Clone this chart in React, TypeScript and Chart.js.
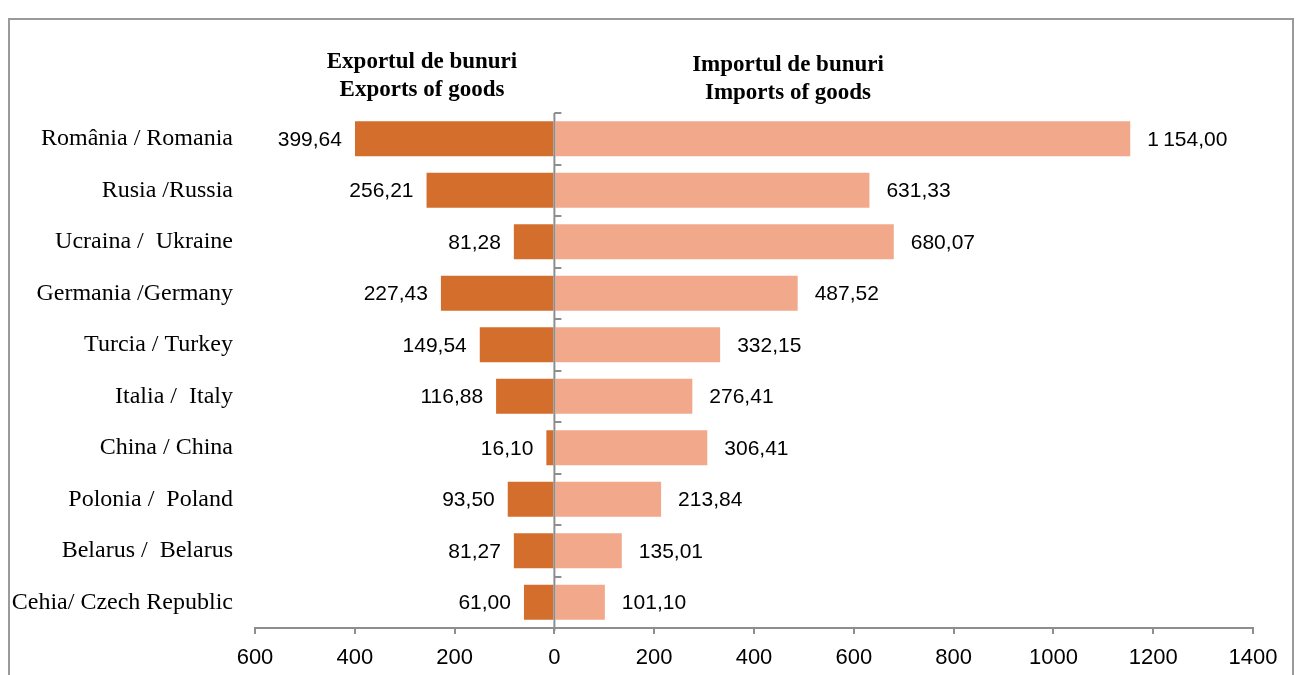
import React, { useEffect, useRef } from "react";
import { Chart, registerables } from "chart.js";

Chart.register(...registerables);

const categories = [
  "România / Romania",
  "Rusia /Russia",
  "Ucraina /  Ukraine",
  "Germania /Germany",
  "Turcia / Turkey",
  "Italia /  Italy",
  "China / China",
  "Polonia /  Poland",
  "Belarus /  Belarus",
  "Cehia/ Czech Republic",
];
const exportsOfGoods = [399.64, 256.21, 81.28, 227.43, 149.54, 116.88, 16.1, 93.5, 81.27, 61.0];
const importsOfGoods = [1154.0, 631.33, 680.07, 487.52, 332.15, 276.41, 306.41, 213.84, 135.01, 101.1];
const exportTitle = ["Exportul de bunuri", "Exports of goods"];
const importTitle = ["Importul de bunuri", "Imports of goods"];
const xMin = -600;
const xMax = 1400;
const xStep = 200;

const EXPORT_COLOR = "#D36E2C";
const IMPORT_COLOR = "#F1A88B";
const AXIS_COLOR = "#8E8E8E";
const SANS = "'Liberation Sans', Arial, sans-serif";
const SERIF = "'Liberation Serif', 'Times New Roman', serif";

function fmt(v: number): string {
  const [i, d] = Math.abs(v).toFixed(2).split(".");
  const withSep = i.replace(/\B(?=(\d{3})+(?!\d))/g, "\u2009");
  return withSep + "," + d;
}

const overlayPlugin = {
  id: "overlay",
  afterDatasetsDraw(chart: any) {
    const ctx = chart.ctx;
    const xs = chart.scales.x;
    const ys = chart.scales.y;
    const area = chart.chartArea;
    const x0 = xs.getPixelForValue(0);
    ctx.save();
    // central axis
    ctx.strokeStyle = AXIS_COLOR;
    ctx.lineWidth = 2;
    ctx.beginPath();
    ctx.moveTo(x0, area.top);
    ctx.lineTo(x0, area.bottom + 3);
    ctx.stroke();
    for (let i = 0; i <= categories.length; i++) {
      const y = Math.round(ys.getPixelForValue(i - 0.5));
      ctx.beginPath();
      ctx.moveTo(x0, y);
      ctx.lineTo(x0 + 7, y);
      ctx.stroke();
    }
    // value labels
    ctx.fillStyle = "#000";
    ctx.font = `21px ${SANS}`;
    ctx.textBaseline = "middle";
    const metaE = chart.getDatasetMeta(0);
    const metaI = chart.getDatasetMeta(1);
    metaE.data.forEach((bar: any, i: number) => {
      ctx.textAlign = "right";
      ctx.fillText(fmt(exportsOfGoods[i]), bar.x - 13, bar.y + 1);
    });
    metaI.data.forEach((bar: any, i: number) => {
      ctx.textAlign = "left";
      ctx.fillText(fmt(importsOfGoods[i]), bar.x + 17, bar.y + 1);
    });
    // titles
    ctx.font = `bold 23px ${SERIF}`;
    ctx.textAlign = "center";
    exportTitle.forEach((t, k) => ctx.fillText(t, 422, 62 + k * 28));
    importTitle.forEach((t, k) => ctx.fillText(t, 788, 65 + k * 28));
    ctx.restore();
  },
};

export default function App() {
  const ref = useRef<HTMLCanvasElement>(null);
  useEffect(() => {
    if (!ref.current) return;
    const chart = new Chart(ref.current, {
      type: "bar",
      data: {
        labels: categories,
        datasets: [
          {
            label: "Exports",
            data: exportsOfGoods.map((v) => -v),
            backgroundColor: EXPORT_COLOR,
            categoryPercentage: 0.68,
            barPercentage: 1,
          },
          {
            label: "Imports",
            data: importsOfGoods,
            backgroundColor: IMPORT_COLOR,
            categoryPercentage: 0.68,
            barPercentage: 1,
          },
        ],
      },
      options: {
        indexAxis: "y",
        responsive: false,
        animation: false,
        devicePixelRatio: 1,
        layout: { padding: { top: 113, right: 47, bottom: 0, left: 0 } },
        plugins: { legend: { display: false }, tooltip: { enabled: false } },
        scales: {
          x: {
            stacked: true,
            min: xMin,
            max: xMax,
            ticks: {
              stepSize: xStep,
              color: "#000",
              font: { family: SANS, size: 22 },
              padding: 11,
              callback: (v: any) => String(Math.abs(Number(v))),
              maxRotation: 0,
            },
            grid: {
              drawOnChartArea: false,
              drawTicks: true,
              tickLength: 6,
              color: AXIS_COLOR,
              lineWidth: 2,
            },
            border: { display: true, color: AXIS_COLOR, width: 2 },
            afterFit: (s: any) => {
              s.height = 47;
            },
          },
          y: {
            stacked: true,
            grid: { display: false },
            border: { display: false },
            ticks: {
              color: "#000",
              font: { family: SERIF, size: 24 },
              padding: 14,
            },
            afterFit: (s: any) => {
              s.width = 255;
            },
          },
        },
      },
      plugins: [overlayPlugin],
    } as any);
    return () => chart.destroy();
  }, []);
  return (
    <div style={{ position: "fixed", left: 0, top: 0, width: 1300, height: 675, background: "#fff" }}>
      <div
        style={{
          position: "absolute",
          left: 8,
          top: 18,
          width: 1282,
          height: 700,
          border: "2px solid #9A9A9A",
        }}
      />
      <canvas ref={ref} width={1300} height={675} style={{ position: "absolute", left: 0, top: 0 }} />
    </div>
  );
}
